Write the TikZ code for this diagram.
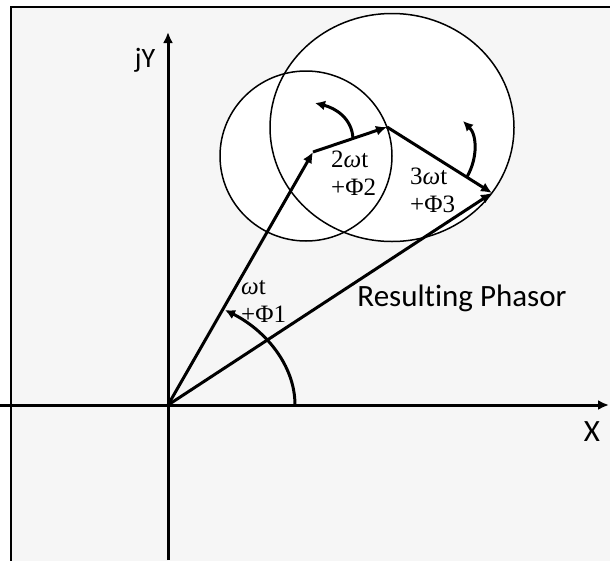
\documentclass[tikz,border=0pt]{standalone}
\usepackage{fontspec}
\setmainfont{Liberation Serif}
\newfontfamily\calibri[Ligatures=NoCommon]{Carlito}
\usetikzlibrary{arrows.meta,calc}
\definecolor{ink}{HTML}{000000}
\definecolor{paper}{HTML}{F6F6F6}
\tikzset{
  axis/.style={-{Latex[length=11pt,width=10pt]},line width=3pt,draw=ink},
  phasor/.style={-{Latex[length=11pt,width=10pt]},line width=3pt,draw=ink},
  turn/.style={-{Latex[length=10pt,width=10pt]},line width=3pt,draw=ink},
  orbit/.style={line width=1.5pt,draw=ink},
  axislabel/.style={font=\calibri\fontsize{31}{31}\selectfont,text=ink,inner sep=0pt},
  termlabel/.style={font=\fontsize{25}{27.5}\selectfont,text=ink,align=left,inner sep=0pt}
}

\begin{document}
\begin{tikzpicture}[x=1pt,y=-1pt]
\useasboundingbox (0,0) rectangle (610,560);
\clip (0,0) rectangle (610,560);
\draw[line width=2.2pt,fill=paper] (11,7) rectangle (630,580);

% points of the phasor chain
\coordinate (origin) at (168,405);
\coordinate (tip1) at (313,152);
\coordinate (tip2) at (387,127);
\coordinate (tip3) at (492,193);

% orbits of the 2nd and 3rd harmonic
\fill[white] (306,156) circle [x radius=86,y radius=85];
\fill[white] (392,127.5) circle [x radius=122,y radius=114];
\draw[orbit] (306,156) circle [x radius=86,y radius=85];
\draw[orbit] (392,127.5) circle [x radius=122,y radius=114];

% axes
\coordinate (xstart) at (0,405);
\coordinate (xend) at (609,405);
\coordinate (ystart) at (168,560);
\coordinate (yend) at (168,32);
\draw[axis] (xstart) -- (xend);
\draw[axis] (ystart) -- (yend);
\node[axislabel] (xlabel) at (592,432) {X};
\node[axislabel,font=\calibri\fontsize{28}{28}\selectfont] (ylabel) at (145,60) {jY};

% phasors
\draw[phasor] (origin) -- (tip1);
\draw[phasor] (tip1) -- (tip2);
\draw[phasor] (tip2) -- (tip3);
\draw[phasor] (origin) -- (tip3);

% rotation arrows
\coordinate (turn2) at ($(tip1)!0.54!(tip2)$);
\coordinate (turn3) at ($(tip2)!0.76!(tip3)$);
\draw[turn] (295,405) .. controls (295,365) and (265,330) .. (225,310);
\draw[turn] (turn2) .. controls (352,118) and (335,108) .. (315,103);
\draw[turn] (turn3) .. controls (478,158) and (477,135) .. (463,121);

% labels
\node[termlabel,anchor=base west] (term1) at (241,322) {{\itshape ω}t\\+Φ1};
\node[termlabel,anchor=base west] (term2) at (331,195) {2{\itshape ω}t\\+Φ2};
\node[termlabel,anchor=base west] (term3) at (410,212) {3{\itshape ω}t\\+Φ3};
\node[axislabel] (result) at (462,298) {Resulting Phasor};

\end{tikzpicture}
\end{document}
